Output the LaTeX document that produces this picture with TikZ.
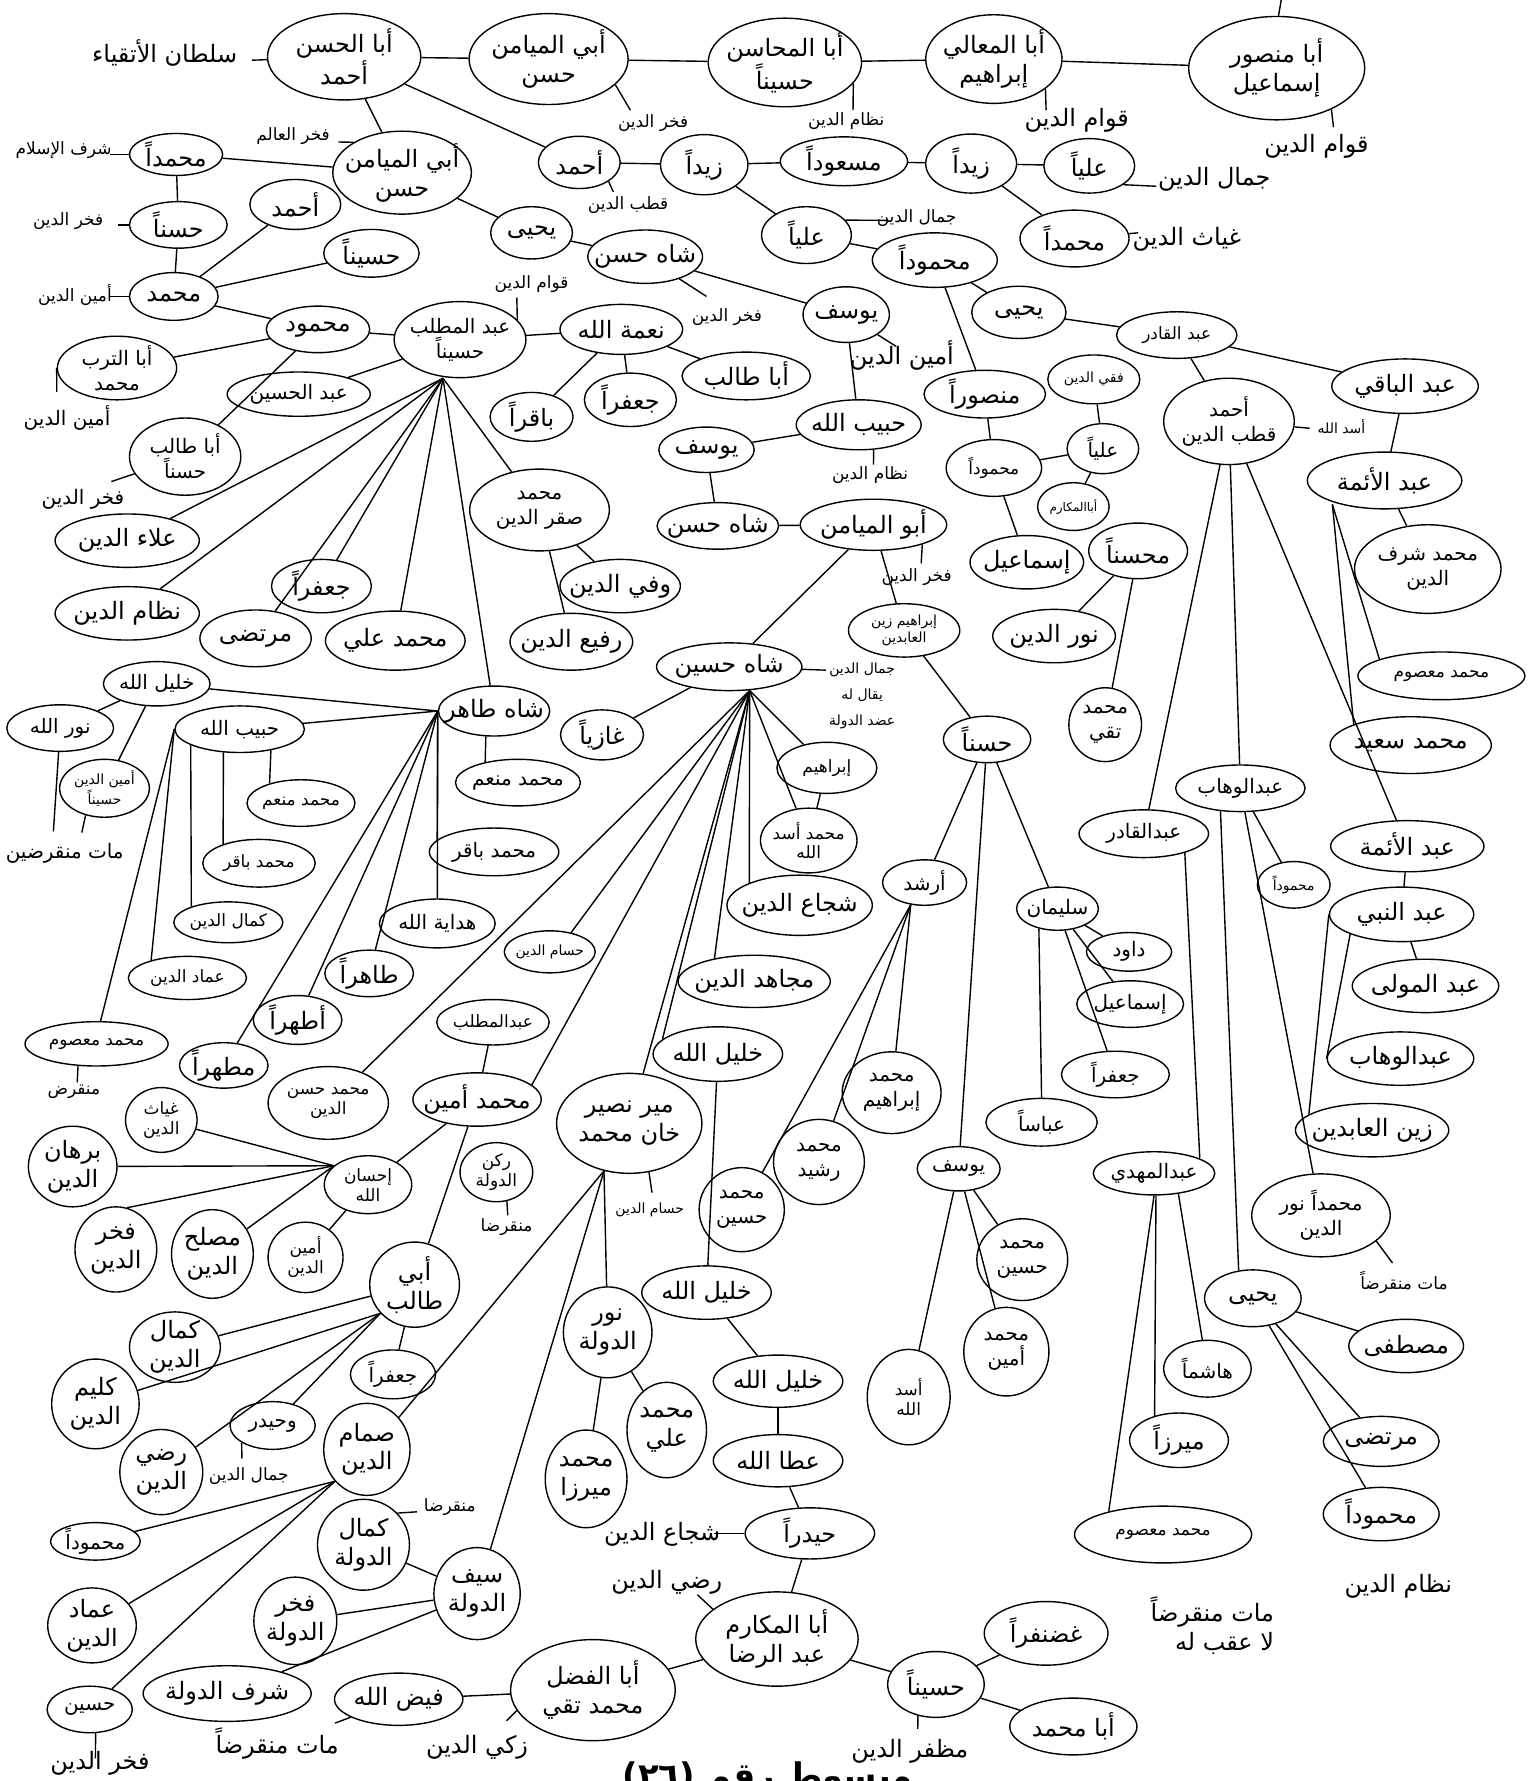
\documentclass[tikz,border=0pt]{standalone}
\usepackage{fontspec}
\newfontfamily\arabicfont[Script=Arabic]{DejaVu Sans}
\TeXXeTstate=1
\usepackage{tikz}
\usetikzlibrary{shapes.geometric}

\newcommand{\AR}[1]{\beginR #1\endR}

\tikzset{
  pp/.style 2 args={ellipse, draw, align=center, inner xsep=-10pt, inner ysep=-7pt, minimum width=#1*0.02cm, minimum height=#2*0.02cm},
  fL/.style={font=\arabicfont\fontsize{12}{14.5}\selectfont},
  fM/.style={font=\arabicfont\fontsize{10}{12.5}\selectfont},
  fS/.style={font=\arabicfont\fontsize{8.5}{10}\selectfont},
  fX/.style={font=\arabicfont\fontsize{7}{8.5}\selectfont},
  lab/.style={inner sep=1pt, align=center}
}

\begin{document}
\begin{tikzpicture}[x=0.02cm, y=-0.02cm, line width=0.7pt]
    \useasboundingbox (0,0) rectangle (1353,1568);

    % Define nodes: top line
    \node (abulhasan) [pp={135}{76}, fL] at (303,50) {\AR{أبا الحسن}\\\AR{أحمد}};
    \node (abulmayamin1) [pp={140}{80}, fL] at (483,52) {\AR{أبي الميامن}\\\AR{حسن}};
    \node (abulmahasin) [pp={135}{78}, fL] at (691,55) {\AR{أبا المحاسن}\\\AR{حسيناً}};
    \node (abulmaali) [pp={120}{78}, fL] at (875,52) {\AR{أبا المعالي}\\\AR{إبراهيم}};
    \node (abumansur) [pp={155}{91}, fL] at (1124,60) {\AR{أبا منصور}\\\AR{إسماعيل}};

    % second line
    \node (muhammadan1) [pp={82}{37}, fL] at (155,136) {\AR{محمداً}};
    \node (abulmayamin2) [pp={122}{73}, fL] at (354,152) {\AR{أبي الميامن}\\\AR{حسن}};
    \node (ahmadb) [pp={72}{46}, fL] at (510,143) {\AR{أحمد}};
    \node (zaydan1) [pp={77}{53}, fL] at (620,145) {\AR{زيداً}};
    \node (masudan) [pp={112}{43}, fL] at (743,142) {\AR{مسعوداً}};
    \node (zaydan2) [pp={80}{52}, fL] at (855,144) {\AR{زيداً}};
    \node (aliyan1) [pp={80}{48}, fL] at (959,146) {\AR{علياً}};
    \node (muhammadan2) [pp={96}{50}, fL] at (946,210) {\AR{محمداً}};
    \node (aliyan2) [pp={79}{50}, fL] at (710,207) {\AR{علياً}};
    \node (mahmudan1) [pp={110}{48}, fL] at (823,229) {\AR{محموداً}};

    % left side
    \node (hasanan) [pp={86}{41}, fL] at (157,198) {\AR{حسناً}};
    \node (muhammada) [pp={78}{42}, fL] at (153,261) {\AR{محمد}};
    \node (ahmada) [pp={80}{44}, fL] at (260,180) {\AR{أحمد}};
    \node (husaynan1) [pp={84}{42}, fL] at (327,223) {\AR{حسيناً}};
    \node (mahmud) [pp={91}{41}, fL] at (280,290) {\AR{محمود}};
    \node (abdulmuttalib1) [pp={116}{67}, fM] at (405,299) {\AR{عبد المطلب}\\\AR{حسيناً}};
    \node (abuturab) [pp={105}{56}, fM] at (103,324) {\AR{أبا الترب}\\\AR{محمد}};
    \node (abdulhusayn) [pp={126}{39}, fM] at (263,347) {\AR{عبد الحسين}};
    \node (abutalib1) [pp={98}{68}, fM] at (163,402) {\AR{أبا طالب}\\\AR{حسناً}};
    \node (alaaddin) [pp={127}{47}, fL] at (112,476) {\AR{علاء الدين}};
    \node (nizamaddin) [pp={127}{47}, fL] at (112,540) {\AR{نظام الدين}};
    \node (murtada1) [pp={98}{50}, fL] at (225,562) {\AR{مرتضى}};
    \node (jafaran1) [pp={88}{47}, fL] at (283,516) {\AR{جعفراً}};
    \node (muhammadali1) [pp={123}{52}, fL] at (348,564) {\AR{محمد علي}};
    \node (muhammadsaqr) [pp={123}{72}, fM] at (475,449) {\AR{محمد}\\\AR{صقر الدين}};
    \node (wafiaddin) [pp={106}{47}, fL] at (546,516) {\AR{وفي الدين}};
    \node (rafiaddin) [pp={108}{50}, fL] at (503,565) {\AR{رفيع الدين}};

    % middle
    \node (yahya1) [pp={72}{46}, fL] at (468,205) {\AR{يحيى}};
    \node (shahhasan1) [pp={101}{47}, fL] at (568,226) {\AR{شاه حسن}};
    \node (yusuf1) [pp={76}{49}, fL] at (745,277) {\AR{يوسف}};
    \node (habiballah1) [pp={110}{44}, fL] at (756,374) {\AR{حبيب الله}};
    \node (nimatallah) [pp={108}{44}, fL] at (547,290) {\AR{نعمة الله}};
    \node (abutalib2) [pp={113}{42}, fL] at (657,331) {\AR{أبا طالب}};
    \node (jafaran2) [pp={81}{47}, fL] at (555,352) {\AR{جعفراً}};
    \node (baqiran) [pp={73}{43}, fL] at (468,367) {\AR{باقراً}};
    \node (yusuf2) [pp={84}{40}, fL] at (622,396) {\AR{يوسف}};
    \node (shahhasan2) [pp={107}{41}, fL] at (632,463) {\AR{شاه حسن}};
    \node (abulmayamin3) [pp={129}{45}, fL] at (769,462) {\AR{أبو الميامن}};
    \node (ibrahimzayn) [pp={98}{47}, fX] at (796,555) {\AR{إبراهيم زين}\\\AR{العابدين}};
    \node (shahhusayn) [pp={128}{42}, fL] at (642,587) {\AR{شاه حسين}};
    \node (ghaziyan) [pp={73}{44}, fL] at (530,647) {\AR{غازياً}};
    \node (ibrahimb) [pp={88}{45}, fS] at (728,676) {\AR{إبراهيم}};
    \node (muhammadasad) [pp={85}{57}, fS] at (712,740) {\AR{محمد أسد}\\\AR{الله}};

    % right of the middle
    \node (yahya2) [pp={83}{46}, fL] at (897,275) {\AR{يحيى}};
    \node (mansuran) [pp={107}{42}, fL] at (867,347) {\AR{منصوراً}};
    \node (abdulqadir1) [pp={106}{41}, fS] at (1036,295) {\AR{عبد القادر}};
    \node (abdulbaqi) [pp={129}{48}, fL] at (1237,340) {\AR{عبد الباقي}};
    \node (ahmadqutb) [pp={115}{76}, fM] at (1082,371) {\AR{أحمد}\\\AR{قطب الدين}};
    \node (fiqhiaddin) [pp={81}{43}, fX] at (963,334) {\AR{فقي الدين}};
    \node (aliyan3) [pp={63}{44}, fM] at (971,395) {\AR{علياً}};
    \node (mahmudan3) [pp={84}{50}, fS] at (875,412) {\AR{محموداً}};
    \node (abulmakarim2) [pp={63}{42}, font=\arabicfont\fontsize{6}{7}\selectfont] at (945,446) {\AR{أباالمكارم}};
    \node (ismaila) [pp={100}{47}, fL] at (904,495) {\AR{إسماعيل}};
    \node (muhsinan) [pp={87}{49}, fL] at (1002,485) {\AR{محسناً}};
    \node (nuraddin) [pp={108}{47}, fL] at (928,560) {\AR{نور الدين}};
    \node (muhammadtaqi) [pp={64}{65}, fM] at (973,638) {\AR{محمد}\\\AR{تقي}};
    \node (hasanan2) [pp={77}{41}, fL] at (869,651) {\AR{حسناً}};

    % right side
    \node (abdulaimma1) [pp={136}{50}, fL] at (1219,423) {\AR{عبد الأئمة}};
    \node (muhammadsharaf) [pp={129}{78}, fM] at (1257,501) {\AR{محمد شرف}\\\AR{الدين}};
    \node (muhammadmasum2) [pp={147}{42}, fS] at (1269,595) {\AR{محمد معصوم}};
    \node (muhammadsaeed) [pp={142}{50}, fL] at (1242,656) {\AR{محمد سعيد}};
    \node (abdulwahhab1) [pp={114}{41}, fM] at (1092,694) {\AR{عبدالوهاب}};
    \node (abdulqadir2) [pp={114}{42}, fM] at (1007,734) {\AR{عبدالقادر}};
    \node (abdulaimma2) [pp={135}{45}, fL] at (1239,745) {\AR{عبد الأئمة}};
    \node (mahmudan4) [pp={64}{41}, fX] at (1139,779) {\AR{محموداً}};
    \node (abdulnabi) [pp={127}{48}, fL] at (1234,805) {\AR{عبد النبي}};
    \node (abdulmawla) [pp={129}{47}, fL] at (1255,868) {\AR{عبد المولى}};
    \node (abdulwahhab2) [pp={129}{47}, fL] at (1233,932) {\AR{عبدالوهاب}};
    \node (zaynalabidin) [pp={135}{47}, fL] at (1208,995) {\AR{زين العابدين}};
    \node (muhammadnur) [pp={122}{73}, fM] at (1163,1070) {\AR{محمداً نور}\\\AR{الدين}};
    \node (abdulmahdi) [pp={107}{38}, fM] at (1016,1033) {\AR{عبدالمهدي}};
    \node (yahya3) [pp={85}{50}, fL] at (1103,1143) {\AR{يحيى}};
    \node (mustafa) [pp={101}{47}, fL] at (1238,1185) {\AR{مصطفى}};
    \node (murtada2) [pp={102}{44}, fL] at (1216,1269) {\AR{مرتضى}};
    \node (mahmudan5) [pp={102}{47}, fL] at (1216,1333) {\AR{محموداً}};
    \node (hashiman) [pp={77}{50}, fM] at (1063,1205) {\AR{هاشماً}};
    \node (mirzan) [pp={87}{48}, fL] at (1038,1268) {\AR{ميرزاً}};
    \node (muhammadmasum3) [pp={156}{50}, fS] at (1024,1351) {\AR{محمد معصوم}};

    % Hasan and his sons
    \node (sulayman) [pp={72}{38}, fM] at (931,800) {\AR{سليمان}};
    \node (dawud) [pp={75}{34}, fM] at (994,838) {\AR{داود}};
    \node (ismailb) [pp={94}{41}, fM] at (995,884) {\AR{إسماعيل}};
    \node (jafaran4) [pp={95}{41}, fM] at (982,946) {\AR{جعفراً}};
    \node (abbasan) [pp={98}{42}, fM] at (917,988) {\AR{عباساً}};
    \node (irshad) [pp={74}{40}, fM] at (814,777) {\AR{أرشد}};
    \node (muhammadibrahim) [pp={87}{72}, fM] at (785,962) {\AR{محمد}\\\AR{إبراهيم}};
    \node (muhammadrashid) [pp={80}{75}, fM] at (721,1023) {\AR{محمد}\\\AR{رشيد}};
    \node (muhammadhusayn1) [pp={75}{74}, fM] at (653,1065) {\AR{محمد}\\\AR{حسين}};
    \node (yusuf3) [pp={73}{39}, fM] at (844,1029) {\AR{يوسف}};
    \node (muhammadhusayn2) [pp={80}{72}, fM] at (900,1109) {\AR{محمد}\\\AR{حسين}};
    \node (muhammadamin2) [pp={75}{78}, fM] at (886,1190) {\AR{محمد}\\\AR{أمين}};
    \node (asadallah) [pp={73}{84}, fS] at (800,1230) {\AR{أسد}\\\AR{الله}};

    % Shah Husayn and below
    \node (shujaaddin) [pp={128}{53}, fL] at (704,797) {\AR{شجاع الدين}};
    \node (mujahidaddin) [pp={134}{46}, fL] at (664,864) {\AR{مجاهد الدين}};
    \node (khalilallah2) [pp={114}{48}, fL] at (632,928) {\AR{خليل الله}};
    \node (mirnasir) [pp={128}{88}, fL] at (554,989) {\AR{مير نصير}\\\AR{خان محمد}};
    \node (khalilallah3) [pp={114}{47}, fL] at (622,1138) {\AR{خليل الله}};
    \node (khalilallah4) [pp={114}{46}, fL] at (685,1216) {\AR{خليل الله}};
    \node (ataallah) [pp={114}{46}, fL] at (685,1286) {\AR{عطا الله}};
    \node (haydaran) [pp={114}{45}, fL] at (713,1350) {\AR{حيدراً}};
    \node (abulmakarim) [pp={143}{83}, fL] at (684,1443) {\AR{أبا المكارم}\\\AR{عبد الرضا}};
    \node (husaynan2) [pp={85}{58}, fL] at (824,1483) {\AR{حسيناً}};
    \node (ghadanfaran) [pp={109}{56}, fL] at (921,1438) {\AR{غضنفراً}};
    \node (abumuhammad) [pp={112}{50}, fL] at (945,1520) {\AR{أبا محمد}};
    \node (abulfadl) [pp={145}{89}, fL] at (522,1488) {\AR{أبا الفضل}\\\AR{محمد تقي}};
    \node (faydallah) [pp={113}{46}, fL] at (351,1496) {\AR{فيض الله}};
    \node (sharafaddawla) [pp={148}{49}, fL] at (200,1491) {\AR{شرف الدولة}};
    \node (sayfaddawla) [pp={76}{81}, fL] at (420,1403) {\AR{سيف}\\\AR{الدولة}};
    \node (fakhraddawla) [pp={73}{77}, fL] at (260,1427) {\AR{فخر}\\\AR{الدولة}};
    \node (kamaladdawla) [pp={81}{80}, fL] at (320,1360) {\AR{كمال}\\\AR{الدولة}};
    \node (samsamaddin) [pp={76}{81}, fL] at (323,1276) {\AR{صمام}\\\AR{الدين}};
    \node (husayn) [pp={75}{41}, fM] at (79,1505) {\AR{حسين}};
    \node (imadaddin2) [pp={78}{66}, fL] at (81,1431) {\AR{عماد}\\\AR{الدين}};
    \node (mahmudan2) [pp={79}{33}, fM] at (84,1357) {\AR{محموداً}};
    \node (ridaaddin) [pp={73}{75}, fL] at (142,1296) {\AR{رضي}\\\AR{الدين}};
    \node (kalimaddin) [pp={77}{79}, fL] at (84,1236) {\AR{كليم}\\\AR{الدين}};
    \node (kamaladdin2) [pp={80}{62}, fL] at (154,1186) {\AR{كمال}\\\AR{الدين}};
    \node (wahaydar) [pp={75}{42}, fM] at (240,1255) {\AR{وحيدر}};
    \node (jafaran3) [pp={75}{43}, fM] at (346,1210) {\AR{جعفراً}};
    \node (abitalib) [pp={79}{75}, fL] at (365,1131) {\AR{أبي}\\\AR{طالب}};
    \node (nuraddawla) [pp={78}{80}, fL] at (535,1173) {\AR{نور}\\\AR{الدولة}};
    \node (muhammadali2) [pp={70}{84}, fL] at (587,1259) {\AR{محمد}\\\AR{علي}};
    \node (muhammadmirza) [pp={72}{86}, fL] at (516,1302) {\AR{محمد}\\\AR{ميرزا}};
    \node (aminaddin2) [pp={66}{62}, fS] at (269,1107) {\AR{أمين}\\\AR{الدين}};
    \node (muslihaddin) [pp={72}{78}, fL] at (187,1104) {\AR{مصلح}\\\AR{الدين}};
    \node (fakhraddin2) [pp={72}{75}, fL] at (102,1100) {\AR{فخر}\\\AR{الدين}};
    \node (burhanaddin) [pp={78}{71}, fL] at (64,1027) {\AR{برهان}\\\AR{الدين}};
    \node (ghiyathaddin) [pp={63}{57}, fS] at (142,986) {\AR{غياث}\\\AR{الدين}};
    \node (ihsanallah) [pp={77}{51}, fS] at (324,1043) {\AR{إحسان}\\\AR{الله}};
    \node (muhammadhasan) [pp={106}{64}, fS] at (289,971) {\AR{محمد حسن}\\\AR{الدين}};
    \node (muhammadamin1) [pp={113}{47}, fL] at (420,968) {\AR{محمد أمين}};
    \node (abdulmuttalib2) [pp={99}{40}, fS] at (434,900) {\AR{عبدالمطلب}};
    \node (rukn) [pp={64}{52}, fS] at (437,1032) {\AR{ركن}\\\AR{الدولة}};
    \node (husamaddin) [pp={80}{37}, fX] at (484,838) {\AR{حسام الدين}};

    % Shah Tahir and below
    \node (shahtahir) [pp={98}{44}, fL] at (435,626) {\AR{شاه طاهر}};
    \node (muhammadmunim2) [pp={110}{41}, fM] at (456,689) {\AR{محمد منعم}};
    \node (muhammadbaqir2) [pp={114}{42}, fM] at (435,750) {\AR{محمد باقر}};
    \node (hidayatallah) [pp={102}{43}, fM] at (385,813) {\AR{هداية الله}};
    \node (tahiran) [pp={78}{41}, fL] at (325,857) {\AR{طاهراً}};
    \node (atharan) [pp={78}{43}, fL] at (262,898) {\AR{أطهراً}};
    \node (mutahharan) [pp={78}{40}, fL] at (197,938) {\AR{مطهراً}};
    \node (khalilallah1) [pp={94}{39}, fM] at (138,602) {\AR{خليل الله}};
    \node (nurallah) [pp={94}{41}, fM] at (53,641) {\AR{نور الله}};
    \node (aminaddinhusayn) [pp={79}{51}, fX] at (92,694) {\AR{أمين الدين}\\\AR{حسيناً}};
    \node (habiballah2) [pp={114}{41}, fM] at (211,642) {\AR{حبيب الله}};
    \node (muhammadmunim1) [pp={95}{41}, fS] at (265,707) {\AR{محمد منعم}};
    \node (muhammadbaqir1) [pp={99}{42}, fS] at (228,760) {\AR{محمد باقر}};
    \node (kamaladdin1) [pp={96}{36}, fS] at (201,812) {\AR{كمال الدين}};
    \node (imadaddin1) [pp={104}{38}, fS] at (165,861) {\AR{عماد الدين}};
    \node (muhammadmasum1) [pp={126}{39}, fS] at (85,919) {\AR{محمد معصوم}};

    % Titles written beside the names
    \node (sultan) [lab, fL] at (145,47) {\AR{سلطان الأتقياء}};
    \node (fakhra) [lab, fS] at (575,108) {\AR{فخر الدين}};
    \node (nizama) [lab, fS] at (745,107) {\AR{نظام الدين}};
    \node (qawama) [lab, fL] at (948,106) {\AR{قوام الدين}};
    \node (qawamb) [lab, fL] at (1159,129) {\AR{قوام الدين}};
    \node (sharafislam) [lab, fS] at (56,132) {\AR{شرف الإسلام}};
    \node (fakhralam) [lab, fS] at (258,120) {\AR{فخر العالم}};
    \node (qutb) [lab, fS] at (553,181) {\AR{قطب الدين}};
    \node (jamala) [lab, fL] at (1069,158) {\AR{جمال الدين}};
    \node (ghiyath) [lab, fL] at (1045,211) {\AR{غياث الدين}};
    \node (jamalb) [lab, fS] at (807,192) {\AR{جمال الدين}};
    \node (fakhrb) [lab, fS] at (60,195) {\AR{فخر الدين}};
    \node (amina) [lab, fS] at (66,260) {\AR{أمين الدين}};
    \node (qawamc) [lab, fS] at (468,250) {\AR{قوام الدين}};
    \node (aminb) [lab, fM] at (59,368) {\AR{أمين الدين}};
    \node (fakhrc) [lab, fS] at (640,279) {\AR{فخر الدين}};
    \node (aminc) [lab, fL] at (794,313) {\AR{أمين الدين}};
    \node (fakhrd) [lab, fM] at (73,440) {\AR{فخر الدين}};
    \node (nizamb) [lab, fS] at (766,418) {\AR{نظام الدين}};
    \node (fakhre) [lab, fS] at (807,508) {\AR{فخر الدين}};
    \node (adud) [lab, fX] at (759,613) {\AR{جمال الدين}\\[4.5pt]\AR{يقال له}\\[4.5pt]\AR{عضد الدولة}};
    \node (asad) [lab, fX] at (1181,376) {\AR{أسد الله}};
    \node (mata) [lab, fM] at (57,751) {\AR{مات منقرضين}};
    \node (munqarida) [lab, fS] at (65,961) {\AR{منقرض}};
    \node (munqaridb) [lab, fS] at (446,1080) {\AR{منقرضا}};
    \node (husam) [lab, fX] at (572,1065) {\AR{حسام الدين}};
    \node (jamalc) [lab, fS] at (219,1300) {\AR{جمال الدين}};
    \node (munqaridc) [lab, fS] at (396,1327) {\AR{منقرضا}};
    \node (fakhrf) [lab, fL] at (88,1552) {\AR{فخر الدين}};
    \node (matb) [lab, fL] at (244,1535) {\AR{مات منقرضاً}};
    \node (zaki) [lab, fL] at (420,1538) {\AR{زكي الدين}};
    \node (rida) [lab, fL] at (587,1393) {\AR{رضي الدين}};
    \node (shujaa) [lab, fL] at (583,1351) {\AR{شجاع الدين}};
    \node (muzaffar) [lab, fL] at (801,1542) {\AR{مظفر الدين}};
    \node (matc) [lab, fS] at (1236,1129) {\AR{مات منقرضاً}};
    \node (matd) [lab, fL, align=right, anchor=east] at (1124,1431) {\AR{مات منقرضاً}\\\AR{لا عقب له}};
    \node (nizamc) [lab, fL] at (1231,1397) {\AR{نظام الدين}};
    \node (title) [lab, anchor=north, font=\arabicfont\bfseries\fontsize{17}{20}\selectfont] at (676,1549) {\AR{مبسوط رقم (٢٦)}};

    % Points where several lines meet
    \coordinate (top) at (1128,0);
    \coordinate (hubmuttalib) at (390,333);
    \coordinate (hubhusayn) at (660,608);
    \coordinate (hubaimma) at (1173,444);

    % Draw lines of the first and second rows
    \draw (abulhasan) -- (abulmayamin1);
    \draw (abulmayamin1) -- (abulmahasin);
    \draw (abulmahasin) -- (abulmaali);
    \draw (abulmaali) -- (abumansur);
    \draw (abumansur.88) -- (top);
    \draw (abulhasan) -- (abulmayamin2);
    \draw (abulhasan) -- (ahmadb);
    \draw (ahmadb) -- (zaydan1);
    \draw (zaydan1) -- (masudan);
    \draw (masudan) -- (zaydan2);
    \draw (zaydan2) -- (aliyan1);
    \draw (zaydan2) -- (muhammadan2);
    \draw (zaydan1) -- (aliyan2);
    \draw (aliyan2) -- (mahmudan1);
    \draw (mahmudan1) -- (yahya2);
    \draw (mahmudan1) -- (mansuran);

    % right side
    \draw (yahya2) -- (abdulqadir1);
    \draw (abdulqadir1) -- (abdulbaqi);
    \draw (abdulqadir1) -- (ahmadqutb);
    \draw (abdulbaqi) -- (abdulaimma1);
    \draw (abdulaimma1) -- (muhammadsharaf);
    \draw (hubaimma) -- (muhammadmasum2.165);
    \draw (hubaimma) -- (muhammadsaeed.160);
    \draw (ahmadqutb) -- (abdulqadir2);
    \draw (ahmadqutb) -- (abdulwahhab1);
    \draw (ahmadqutb) -- (abdulaimma2);
    \draw (abdulwahhab1) -- (mahmudan4);
    \draw (abdulwahhab1.-131) -- (yahya3.117);
    \draw (abdulwahhab1) -- (muhammadnur);
    \draw (abdulqadir2.-25) -- (abdulmahdi.18);
    \draw (abdulmahdi.south) -- (muhammadmasum3.157);
    \draw (abdulmahdi.-85) -- (mirzan.135);
    \draw (abdulmahdi.-40) -- (hashiman.100);
    \draw (yahya3) -- (mustafa);
    \draw (yahya3) -- (murtada2);
    \draw (yahya3) -- (mahmudan5);
    \draw (abdulaimma2) -- (abdulnabi);
    \draw (abdulnabi) -- (abdulmawla);
    \draw (abdulnabi.201) -- (abdulwahhab2.west);
    \draw (abdulnabi.west) -- (zaynalabidin.166);

    % left side
    \draw (muhammadan1) -- (abulmayamin2);
    \draw (muhammadan1) -- (hasanan);
    \draw (hasanan) -- (muhammada);
    \draw (muhammada) -- (ahmada);
    \draw (muhammada) -- (husaynan1);
    \draw (muhammada) -- (mahmud);
    \draw (mahmud) -- (abuturab);
    \draw (mahmud) -- (abutalib1);
    \draw (mahmud) -- (abdulmuttalib1);
    \draw (abdulmuttalib1) -- (abdulhusayn);
    \draw (abdulmuttalib1) -- (nimatallah);
    \draw (hubmuttalib) -- (alaaddin);
    \draw (hubmuttalib) -- (nizamaddin);
    \draw (hubmuttalib) -- (murtada1);
    \draw (hubmuttalib) -- (jafaran1);
    \draw (hubmuttalib) -- (muhammadali1);
    \draw (hubmuttalib) -- (shahtahir);
    \draw (hubmuttalib) -- (muhammadsaqr);
    \draw (muhammadsaqr) -- (wafiaddin);
    \draw (muhammadsaqr) -- (rafiaddin);
    \draw (nimatallah) -- (abutalib2);
    \draw (nimatallah) -- (jafaran2);
    \draw (nimatallah) -- (baqiran);

    % middle
    \draw (abulmayamin2) -- (yahya1);
    \draw (yahya1) -- (shahhasan1);
    \draw (shahhasan1) -- (yusuf1);
    \draw (yusuf1) -- (habiballah1);
    \draw (habiballah1) -- (yusuf2);
    \draw (yusuf2) -- (shahhasan2);
    \draw (shahhasan2) -- (abulmayamin3);
    \draw (abulmayamin3) -- (ibrahimzayn);
    \draw (abulmayamin3) -- (shahhusayn);
    \draw (ibrahimzayn) -- (hasanan2);
    \draw (shahhusayn) -- (ghaziyan);
    \draw (hubhusayn) -- (ibrahimb);
    \draw (hubhusayn) -- (muhammadasad);
    \draw (hubhusayn) -- (shujaaddin.156);
    \draw (hubhusayn) -- (mujahidaddin.150);
    \draw (hubhusayn) -- (khalilallah2.165);
    \draw (hubhusayn) -- (mirnasir);
    \draw (hubhusayn) -- (muhammadamin1.15);
    \draw (hubhusayn) -- (husamaddin.42);
    \draw (hubhusayn) -- (muhammadhasan.42);
    \draw (ibrahimb) -- (muhammadasad);
    \draw (mansuran) -- (mahmudan3);
    \draw (mahmudan3) -- (aliyan3);
    \draw (mahmudan3) -- (ismaila);
    \draw (fiqhiaddin) -- (aliyan3);
    \draw (aliyan3) -- (abulmakarim2);
    \draw (muhsinan) -- (nuraddin);
    \draw (muhsinan) -- (muhammadtaqi);
    \draw (hasanan2) -- (irshad);
    \draw (hasanan2) -- (sulayman);
    \draw (hasanan2) -- (yusuf3);
    \draw (sulayman) -- (dawud);
    \draw (sulayman) -- (ismailb);
    \draw (sulayman) -- (jafaran4);
    \draw (sulayman.-133) -- (abbasan.north);
    \draw (irshad.-122) -- (muhammadibrahim);
    \draw (irshad.-122) -- (muhammadrashid);
    \draw (irshad.-122) -- (muhammadhusayn1);
    \draw (yusuf3) -- (muhammadhusayn2);
    \draw (yusuf3) -- (muhammadamin2);
    \draw (yusuf3) -- (asadallah);

    % Shah Tahir
    \draw (shahtahir.west) -- (khalilallah1);
    \draw (shahtahir.west) -- (habiballah2);
    \draw (shahtahir.west) -- (mutahharan);
    \draw (shahtahir.west) -- (atharan);
    \draw (shahtahir.west) -- (tahiran);
    \draw (shahtahir.west) -- (hidayatallah);
    \draw (shahtahir.west) -- (muhammadbaqir2.168);
    \draw (shahtahir.-108) -- (muhammadmunim2.148);
    \draw (khalilallah1) -- (nurallah);
    \draw (khalilallah1) -- (aminaddinhusayn);
    \draw (habiballah2.-34) -- (muhammadmunim1.148);
    \draw (habiballah2.-125) -- (muhammadbaqir1.152);
    \draw (habiballah2.-162) -- (kamaladdin1.157);
    \draw (habiballah2.west) -- (imadaddin1.154);
    \draw (habiballah2.west) -- (muhammadmasum1.80);

    % lower left
    \draw (abdulmuttalib2) -- (muhammadamin1);
    \draw (muhammadamin1) -- (ihsanallah);
    \draw (muhammadamin1) -- (abitalib);
    \draw (ihsanallah.151) -- (ghiyathaddin);
    \draw (ihsanallah.151) -- (burhanaddin);
    \draw (ihsanallah.151) -- (fakhraddin2.75);
    \draw (ihsanallah.151) -- (muslihaddin);
    \draw (ihsanallah) -- (aminaddin2);
    \draw (abitalib) -- (kamaladdin2);
    \draw (abitalib.-140) -- (kalimaddin);
    \draw (abitalib.-140) -- (ridaaddin);
    \draw (abitalib.-140) -- (wahaydar);
    \draw (abitalib) -- (jafaran3);
    \draw (mirnasir.-118) -- (nuraddawla);
    \draw (mirnasir.-118) -- (sayfaddawla);
    \draw (mirnasir.-118) -- (samsamaddin.45);
    \draw (samsamaddin.-135) -- (mahmudan2);
    \draw (samsamaddin.-135) -- (imadaddin2);
    \draw (samsamaddin.-135) -- (husayn);
    \draw (sayfaddawla) -- (kamaladdawla);
    \draw (sayfaddawla) -- (fakhraddawla);
    \draw (sayfaddawla) -- (sharafaddawla);
    \draw (nuraddawla) -- (muhammadali2);
    \draw (nuraddawla) -- (muhammadmirza);
    \draw (khalilallah2) -- (khalilallah3);
    \draw (khalilallah3) -- (khalilallah4);
    \draw (khalilallah4) -- (ataallah);
    \draw (ataallah) -- (haydaran);
    \draw (haydaran) -- (abulmakarim);
    \draw (abulmakarim) -- (abulfadl);
    \draw (abulfadl) -- (faydallah);
    \draw (abulmakarim) -- (husaynan2);
    \draw (husaynan2) -- (ghadanfaran);
    \draw (husaynan2) -- (abumuhammad);

    % short strokes to the titles
    \coordinate (ta) at (222,53);   \draw (abulhasan) -- (ta);
    \coordinate (tb) at (555,97);   \draw (abulmayamin1.-21) -- (tb);
    \coordinate (tc) at (751,97);   \draw (abulmahasin.-17) -- (tc);
    \coordinate (td) at (921,97);   \draw (abulmaali.-30) -- (td);
    \coordinate (te) at (1174,112); \draw (abumansur.-37) -- (te);
    \coordinate (tf) at (97,136);   \draw (muhammadan1) -- (tf);
    \coordinate (tg) at (298,125);  \draw (abulmayamin2.148) -- (tg);
    \coordinate (th) at (540,169);  \draw (ahmadb.-33) -- (th);
    \coordinate (ti) at (1018,164); \draw (aliyan1.-29) -- (ti);
    \coordinate (tj) at (1002,205); \draw (muhammadan2) -- (tj);
    \coordinate (tk) at (782,194);  \draw (aliyan2.21) -- (tk);
    \coordinate (tl) at (104,198);  \draw (hasanan) -- (tl);
    \coordinate (tm) at (97,261);   \draw (muhammada) -- (tm);
    \coordinate (tn) at (455,262);  \draw (abdulmuttalib1.19) -- (tn);
    \coordinate (to) at (50,345);   \draw (abuturab.west) -- (to);
    \coordinate (tp) at (622,261);  \draw (shahhasan1) -- (tp);
    \coordinate (tq) at (789,305);  \draw (yusuf1) -- (tq);
    \coordinate (tr) at (98,424);   \draw (abutalib1) -- (tr);
    \coordinate (ts) at (769,409);  \draw (habiballah1.-59) -- (ts);
    \coordinate (tt) at (811,496);  \draw (abulmayamin3.-22) -- (tt);
    \coordinate (tu) at (727,590);  \draw (shahhusayn) -- (tu);
    \coordinate (tv) at (1153,377); \draw (ahmadqutb) -- (tv);
    \coordinate (tw) at (47,732);   \draw (nurallah) -- (tw);
    \coordinate (tx) at (72,733);   \draw (aminaddinhusayn.-125) -- (tx);
    \coordinate (ty) at (68,953);   \draw (muhammadmasum1.-130) -- (ty);
    \coordinate (tz) at (447,1070); \draw (rukn.-70) -- (tz);
    \coordinate (taa) at (574,1050); \draw (mirnasir.-68) -- (taa);
    \coordinate (tbb) at (213,1284); \draw (wahaydar.-151) -- (tbb);
    \coordinate (tcc) at (367,1331); \draw (kamaladdawla.43) -- (tcc);
    \coordinate (tdd) at (84,1548);  \draw (husayn.-76) -- (tdd);
    \coordinate (tee) at (295,1517); \draw (faydallah) -- (tee);
    \coordinate (tff) at (446,1515); \draw (abulfadl.-165) -- (tff);
    \coordinate (tgg) at (614,1404); \draw (abulmakarim.155) -- (tgg);
    \coordinate (thh) at (629,1350); \draw (haydaran) -- (thh);
    \coordinate (tii) at (808,1522); \draw (husaynan2.-120) -- (tii);
    \coordinate (tjj) at (1226,1112); \draw (muhammadnur.-25) -- (tjj);
\end{tikzpicture}
\end{document}
